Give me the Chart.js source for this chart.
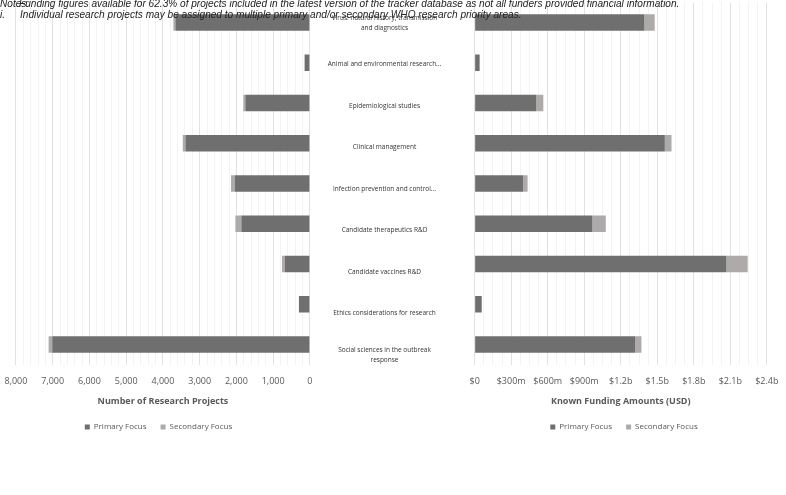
<!DOCTYPE html>
<html>
<head>
<meta charset="utf-8">
<script src="https://cdn.jsdelivr.net/npm/chart.js@4/dist/chart.umd.min.js"></script>
<style>
  body { margin: 0; background: #fff; width: 786px; height: 495px; position: relative; overflow: hidden; }
  canvas { position: absolute; top: 0; }
  #left { left: -7px; }
  #middle { left: 311px; top: -20px; }
  #right { left: 458px; }
  #notes { position: absolute; left: 0; top: -1px; z-index: 5; color: #222;
           font: italic 10.1px "Liberation Sans Narrow", sans-serif; white-space: nowrap; }
  #notes .row { position: relative; height: 10.7px; line-height: 10.7px; }
  #notes .num { position: absolute; left: 0; }
  #notes .txt { position: absolute; left: 19px; }
</style>
</head>
<body>
<canvas id="left" width="331" height="441"></canvas>
<canvas id="middle" width="170" height="406"></canvas>
<canvas id="right" width="332" height="441"></canvas>
<div id="notes">
  <div class="row"><span class="txt">Funding figures available for 62.3% of projects included in the latest version of the tracker database as not all funders provided financial information.</span><span class="num">Notes:</span></div>
  <div class="row"><span class="num">i.</span><span class="txt" style="left:20px">Individual research projects may be assigned to multiple primary and/or secondary WHO research priority areas.</span></div>
</div>
<script>
// categories (top to bottom)
const categories = [
  ['Virus: natural history, transmission', 'and diagnostics'],
  'Animal and environmental research...',
  'Epidemiological studies',
  'Clinical management',
  'Infection prevention and control...',
  'Candidate therapeutics R&D',
  'Candidate vaccines R&D',
  'Ethics considerations for research',
  ['Social sciences in the outbreak', 'response']
];
const seriesNames = ['Primary Focus', 'Secondary Focus'];

// number of research projects
const projectsPrimary   = [3660, 145, 1757, 3388, 2047, 1866, 679, 299, 7011];
const projectsSecondary = [55, 0, 55, 72, 100, 163, 82, 0, 100];

// known funding, USD millions
const fundingPrimary   = [1394, 41, 504, 1562, 397, 967, 2068, 58, 1318];
const fundingSecondary = [85, 0, 60, 55, 38, 110, 175, 0, 52];

// tick labels
const projectTickValues = [0, 1000, 2000, 3000, 4000, 5000, 6000, 7000, 8000];
const projectTickLabels = ['0', '1,000', '2,000', '3,000', '4,000', '5,000', '6,000', '7,000', '8,000'];
const fundingTickValues = [0, 300, 600, 900, 1200, 1500, 1800, 2100, 2400];
const fundingTickLabels = ['$0', '$300m', '$600m', '$900m', '$1.2b', '$1.5b', '$1.8b', '$2.1b', '$2.4b'];

const PRIMARY = '#6f6f6f';
const SECONDARY = '#aeaaaa';
const FONT = '"Open Sans", sans-serif';
const TEXT = '#595959';

function gridColor(majorValues) {
  return ctx => majorValues.includes(ctx.tick.value) ? '#e2e2e2' : '#f3f3f3';
}

function sideChart(id, primary, secondary, xOpts) {
  return new Chart(document.getElementById(id), {
    type: 'bar',
    data: {
      labels: categories,
      datasets: [
        { label: seriesNames[0], data: primary, backgroundColor: PRIMARY },
        { label: seriesNames[1], data: secondary, backgroundColor: SECONDARY }
      ]
    },
    options: {
      indexAxis: 'y',
      responsive: false,
      animation: false,
      layout: { padding: { left: 0, right: 0, top: 2.3, bottom: 0 } },
      datasets: { bar: { barPercentage: 0.41, categoryPercentage: 1 } },
      scales: {
        x: Object.assign({
          type: 'linear',
          stacked: true,
          min: 0,
          border: { display: false },
          grid: { color: gridColor(xOpts.majors), drawTicks: false },
          ticks: {
            stepSize: xOpts.step,
            autoSkip: false,
            maxTicksLimit: 100,
            maxRotation: 0,
            padding: 11.5,
            color: TEXT,
            font: { family: FONT, size: 9 },
            callback: v => {
              const i = xOpts.majors.indexOf(v);
              return i >= 0 ? xOpts.labels[i] : '';
            }
          },
          title: {
            display: true,
            text: xOpts.title,
            color: TEXT,
            font: { family: FONT, size: 9, weight: 'bold' },
            padding: { top: -2, bottom: 1.7 }
          }
        }, xOpts.extra),
        y: { type: 'category', stacked: true, display: false }
      },
      plugins: {
        legend: {
          position: 'bottom',
          labels: {
            boxWidth: 5, boxHeight: 5, padding: 14,
            color: TEXT,
            font: { family: FONT, size: 8 }
          }
        },
        tooltip: { enabled: false }
      }
    }
  });
}

sideChart('left', projectsPrimary, projectsSecondary, {
  majors: projectTickValues, labels: projectTickLabels, step: 200,
  title: 'Number of Research Projects',
  extra: { reverse: true, max: 8000 }
});

sideChart('right', fundingPrimary, fundingSecondary, {
  majors: fundingTickValues, labels: fundingTickLabels, step: 75,
  title: 'Known Funding Amounts (USD)',
  extra: { max: 2400 }
});

// middle category labels, centred between the two panels
const labelFont = { family: FONT, size: 6.5, lineHeight: 1.45 };
const meas = document.createElement('canvas').getContext('2d');
meas.font = labelFont.size + 'px ' + FONT;
const widest = Math.max(...categories.flat().map(t => meas.measureText(t).width));

new Chart(document.getElementById('middle'), {
  type: 'bar',
  data: { labels: categories, datasets: [] },
  options: {
    indexAxis: 'y',
    responsive: false,
    animation: false,
    layout: { padding: { left: 0, right: 0, top: 22.25, bottom: 10.25 } },
    scales: {
      x: { type: 'linear', display: false },
      y: {
        type: 'category',
        offset: true,
        grid: { display: false },
        border: { display: false },
        ticks: {
          crossAlign: 'center',
          autoSkip: false,
          padding: 0,
          color: '#333333',
          font: labelFont
        },
        afterFit: s => { s.width = 81.5 + widest / 2; }
      }
    },
    plugins: { legend: { display: false }, tooltip: { enabled: false } }
  }
});
</script>
</body>
</html>
